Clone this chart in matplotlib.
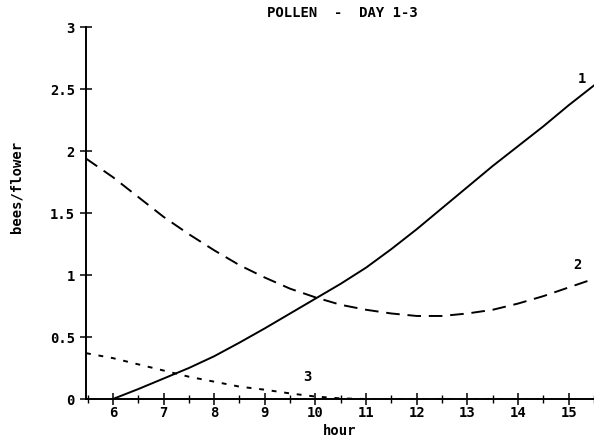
import matplotlib
matplotlib.use("Agg")
import matplotlib.pyplot as plt
from matplotlib.ticker import MultipleLocator

hours1 = [6, 6.5, 7, 7.5, 8, 8.5, 9, 9.5, 10, 10.5, 11, 11.5, 12, 12.5, 13, 13.5, 14, 14.5, 15, 15.5]
bees1 = [0, 0.08, 0.165, 0.25, 0.345, 0.455, 0.57, 0.69, 0.81, 0.93, 1.06, 1.21, 1.37, 1.54, 1.71, 1.88, 2.04, 2.20, 2.37, 2.53]

hours2 = [5.47, 6, 6.5, 7, 7.5, 8, 8.5, 9, 9.5, 10, 10.5, 11, 11.5, 12, 12.5, 13, 13.5, 14, 14.5, 15, 15.5]
bees2 = [1.94, 1.79, 1.63, 1.47, 1.33, 1.20, 1.08, 0.98, 0.89, 0.82, 0.76, 0.72, 0.69, 0.67, 0.67, 0.69, 0.72, 0.77, 0.83, 0.90, 0.97]

hours3 = [5.47, 6, 6.5, 7, 7.5, 8, 8.5, 9, 9.5, 10, 10.5, 11, 12, 13, 14, 14.5]
bees3 = [0.37, 0.33, 0.28, 0.23, 0.18, 0.14, 0.10, 0.075, 0.045, 0.02, 0.005, 0.0, 0.0, 0.0, 0.0, 0.0]

x_ticks = [6, 7, 8, 9, 10, 11, 12, 13, 14, 15]
y_ticks = [0, 0.5, 1, 1.5, 2, 2.5, 3]
y_tick_labels = ["0", "0.5", "1", "1.5", "2", "2.5", "3"]

mono = {"family": "DejaVu Sans Mono", "weight": "bold"}
FS = 10

fig = plt.figure(figsize=(5.94, 4.38), dpi=100)
ax = fig.add_axes([0.1448, 0.089, 0.8552, 0.849])

ax.plot(hours1, bees1, color="black", lw=1.4)
ax.plot(hours2, bees2, color="black", lw=1.4, dashes=(7, 4))
ax.plot(hours3, bees3, color="black", lw=1.4, dashes=(2.5, 4))

ax.set_xlim(5.47, 15.5)
ax.set_ylim(0, 3)
ax.set_xticks(x_ticks)
ax.xaxis.set_minor_locator(MultipleLocator(0.5))
ax.set_yticks(y_ticks)
ax.set_yticklabels(y_tick_labels)

for s in ["top", "right"]:
    ax.spines[s].set_visible(False)
for s in ["left", "bottom"]:
    ax.spines[s].set_linewidth(1.4)

ax.tick_params(axis="both", which="major", direction="inout", length=8, width=1.1,
               labelsize=FS)
ax.tick_params(axis="x", which="major", pad=1)
ax.tick_params(axis="y", which="major", pad=4)
ax.tick_params(axis="x", which="minor", direction="inout", length=6, width=1.0)
for lab in ax.get_xticklabels() + ax.get_yticklabels():
    lab.set_fontfamily("DejaVu Sans Mono")
    lab.set_fontweight("bold")

ax.text(15.26, 2.58, "1", fontsize=FS, ha="center", va="center", **mono)
ax.text(15.18, 1.08, "2", fontsize=FS, ha="center", va="center", **mono)
ax.text(9.84, 0.18, "3", fontsize=FS, ha="center", va="center", **mono)

fig.text(0.576, 0.970, "POLLEN  -  DAY 1-3", ha="center", va="center", fontsize=FS, **mono)
fig.text(0.572, 0.007, "hour", ha="center", va="baseline", fontsize=FS, **mono)
fig.text(0.028, 0.573, "bees/flower", ha="center", va="center", rotation=90, fontsize=FS, **mono)

fig.savefig("out.png", dpi=100)
